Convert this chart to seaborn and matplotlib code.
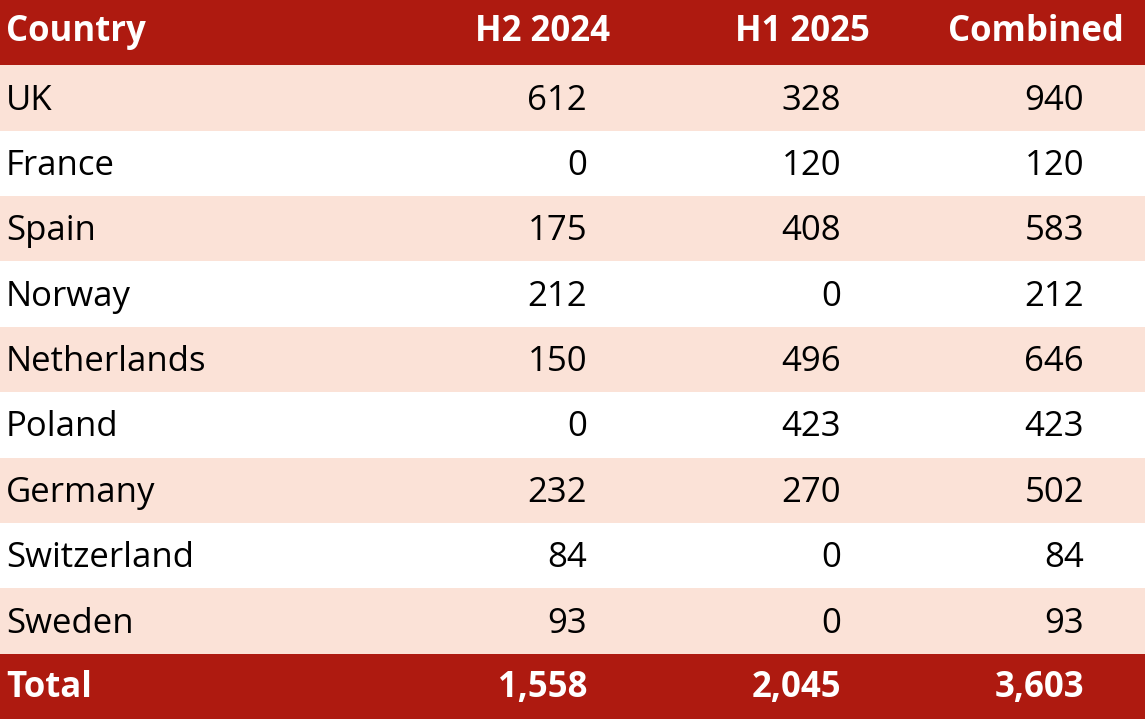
import numpy as np
import seaborn as sns
import matplotlib.pyplot as plt
from matplotlib.colors import ListedColormap

countries = ["UK", "France", "Spain", "Norway", "Netherlands", "Poland",
             "Germany", "Switzerland", "Sweden"]
h2_2024 = [612, 0, 175, 212, 150, 0, 232, 84, 93]
h1_2025 = [328, 120, 408, 0, 496, 423, 270, 0, 0]
combined = [940, 120, 583, 212, 646, 423, 502, 84, 93]
headers = ["Country", "H2 2024", "H1 2025", "Combined"]

RED = "#ae1a10"
PINK = "#fbe2d7"
W, H = 1145, 719

sns.set_theme(style="white")
plt.rcParams["font.family"] = ["Open Sans", "DejaVu Sans"]

fig = plt.figure(figsize=(W / 100, H / 100), dpi=100)
ax = fig.add_axes([0, 0, 1, 1])

# row kinds: 0 = red (header/total), 1 = pink, 2 = white
kinds = [0] + [1 if i % 2 == 0 else 2 for i in range(len(countries))] + [0]
sns.heatmap(np.array(kinds).reshape(-1, 1), ax=ax, cmap=ListedColormap([RED, PINK, "white"]),
            vmin=-0.5, vmax=2.5, cbar=False, xticklabels=False, yticklabels=False)
ax.set_xlim(0, 1)

fs = 25
hdr_x = [6 / W, 610 / W, 870 / W, 1124 / W]
val_x = [6 / W, 587 / W, 841 / W, 1084 / W]

for j, h in enumerate(headers):
    ax.text(hdr_x[j], 0.49, h, ha="left" if j == 0 else "right", va="center",
            color="white", fontsize=fs, fontweight="bold")

for i, c in enumerate(countries):
    y = i + 1.54
    ax.text(val_x[0], y, c, ha="left", va="center", color="black", fontsize=fs)
    for j, v in enumerate([h2_2024[i], h1_2025[i], combined[i]], start=1):
        ax.text(val_x[j], y, f"{v:,}", ha="right", va="center", color="black", fontsize=fs)

totals = [sum(h2_2024), sum(h1_2025), sum(combined)]
yt = len(countries) + 1.52
ax.text(val_x[0], yt, "Total", ha="left", va="center", color="white", fontsize=fs, fontweight="bold")
for j, v in enumerate(totals, start=1):
    ax.text(val_x[j], yt, f"{v:,}", ha="right", va="center", color="white",
            fontsize=fs, fontweight="bold")

fig.savefig("out.png", dpi=100)
